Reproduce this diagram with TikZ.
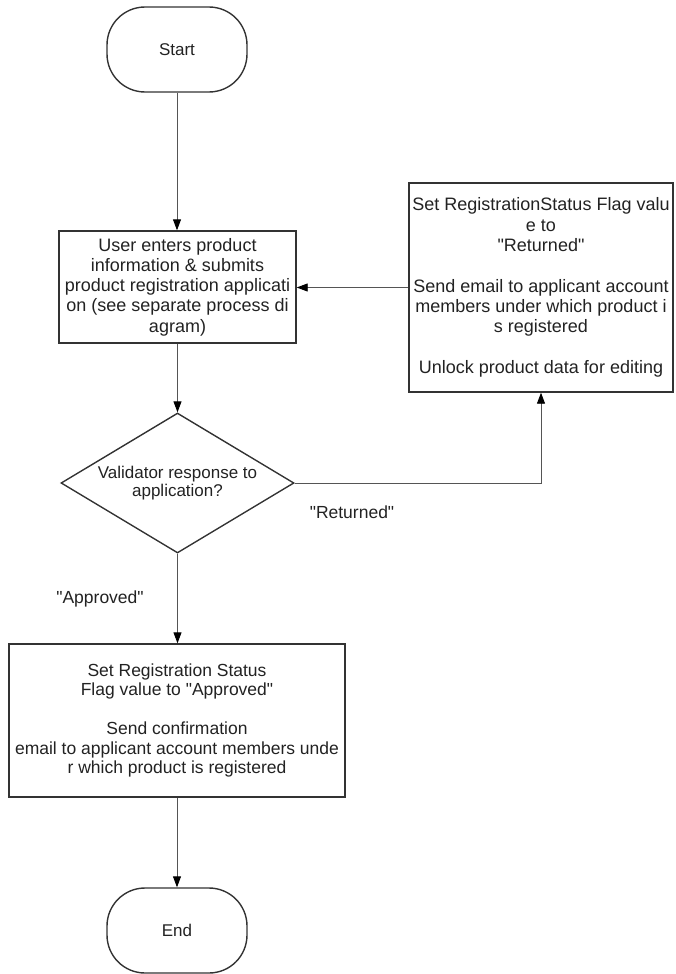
\documentclass[tikz,border=0pt]{standalone}
\usepackage{fontspec}
\setmainfont{Liberation Sans}[Ligatures=TeXOff]
\usetikzlibrary{shapes.geometric,arrows.meta}
\definecolor{boxline}{HTML}{333333}
\definecolor{conline}{HTML}{555555}
\definecolor{txt}{HTML}{222222}
\tikzset{
  every node/.style={text=txt, inner sep=0pt, align=center},
  boxtext/.style={font=\fontsize{18}{20.3}\selectfont},
  procbox/.style={draw=boxline, line width=1.4pt, rectangle, boxtext},
  termbox/.style={draw=boxline, line width=1.4pt, rectangle, rounded corners=38pt,
    minimum width=140pt, minimum height=85pt, font=\fontsize{17}{19}\selectfont},
  decbox/.style={draw=boxline, line width=1.4pt, diamond, aspect=1.664,
    minimum width=233pt, minimum height=140pt, font=\fontsize{17}{18.5}\selectfont},
  conn/.style={draw=conline, line width=0.9pt, -{Triangle[length=11pt,width=8pt,color=black]}},
  lbl/.style={font=\fontsize{17.5}{20}\selectfont}
}
\begin{document}
\begin{tikzpicture}[x=1pt,y=-1pt]
\useasboundingbox (0,0) rectangle (675,974);
\node[termbox] (start) at (177,49.5) {Start};
\node[procbox, minimum width=237pt, minimum height=112pt] (user) at (177.5,287)
  {User enters product\\information \& submits\\product registration applicati\\on (see separate process di\\agram)};
\node[procbox, minimum width=264pt, minimum height=209pt] (ret) at (541,287.5)
  {Set RegistrationStatus Flag valu\\e to\\"Returned"\\[20.3pt]Send email to applicant account\\members under which product i\\s registered\\[20.3pt]Unlock product data for editing};
\node[decbox] (dec) at (177.5,483) {Validator response to\\application?};
\node[procbox, minimum width=336pt, minimum height=153pt, font=\fontsize{17.5}{19.5}\selectfont] (appr) at (177,720.5)
  {Set Registration Status\\Flag value to "Approved"\\[19.5pt]Send confirmation\\email to applicant account members unde\\r which product is registered};
\node[termbox] (end) at (177,930.5) {End};
\node[lbl] (lret) at (352,512) {"Returned"};
\node[lbl] (lapp) at (100,599) {"Approved"};
\draw[conn] (start.south) -- (start.south |- user.north);
\draw[conn] (ret.west) -- (ret.west -| user.east);
\draw[conn] (user.south) -- (user.south |- dec.north);
\draw[conn] (dec.east) -| (ret.south);
\draw[conn] (dec.south) -- (dec.south |- appr.north);
\draw[conn] (appr.south) -- (appr.south |- end.north);
\end{tikzpicture}
\end{document}
